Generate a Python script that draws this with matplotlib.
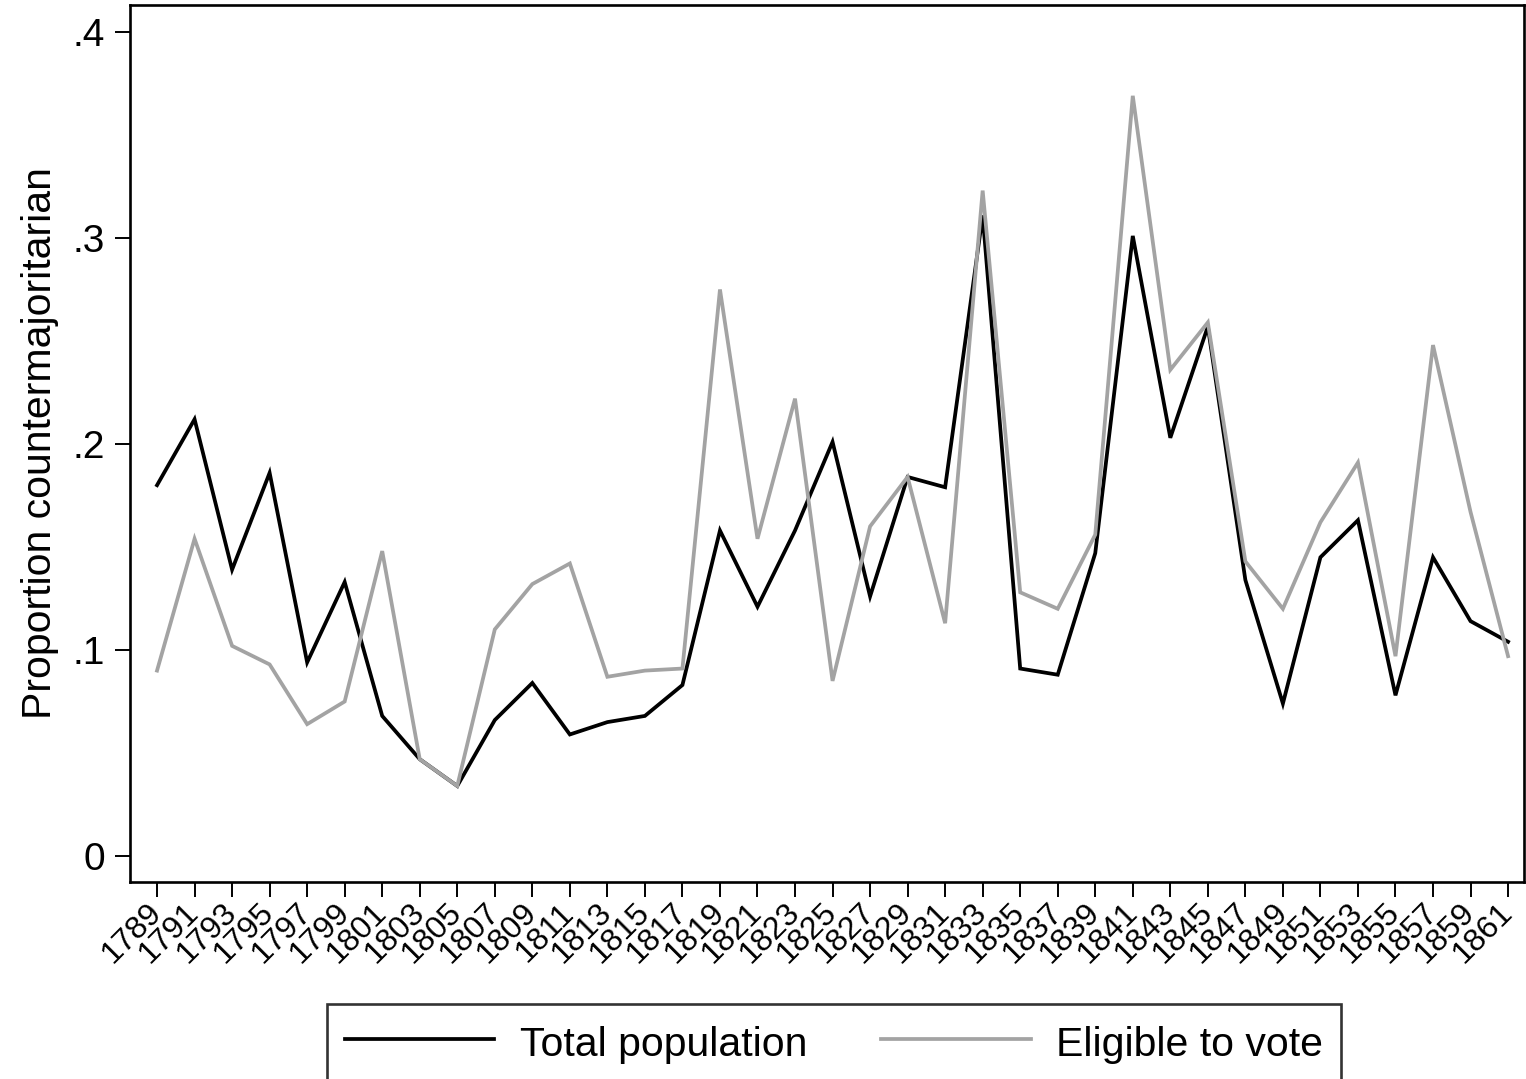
import matplotlib
matplotlib.use("Agg")
import matplotlib.pyplot as plt
from matplotlib.ticker import FixedLocator

plt.rcParams['font.family'] = ['Liberation Sans', 'DejaVu Sans']

# Congress start years
years = list(range(1789, 1862, 2))

# Share of countermajoritarian outcomes, by population base
total_population = [
    0.180, 0.212, 0.139, 0.186, 0.094, 0.133, 0.068, 0.047, 0.034, 0.066,
    0.084, 0.059, 0.065, 0.068, 0.083, 0.158, 0.121, 0.158, 0.201, 0.126,
    0.184, 0.179, 0.311, 0.091, 0.088, 0.147, 0.301, 0.203, 0.257, 0.134,
    0.074, 0.145, 0.163, 0.078, 0.145, 0.114, 0.104,
]
eligible_to_vote = [
    0.090, 0.154, 0.102, 0.093, 0.064, 0.075, 0.148, 0.047, 0.034, 0.110,
    0.132, 0.142, 0.087, 0.090, 0.091, 0.275, 0.154, 0.222, 0.085, 0.160,
    0.184, 0.113, 0.323, 0.128, 0.120, 0.156, 0.369, 0.236, 0.259, 0.143,
    0.120, 0.162, 0.191, 0.097, 0.248, 0.167, 0.097,
]

ytick_vals = [0, 0.1, 0.2, 0.3, 0.4]
ytick_labels = ["0", ".1", ".2", ".3", ".4"]

fig = plt.figure(figsize=(15.26, 10.79), dpi=100)
ax = fig.add_axes([0.0852, 0.1826, 0.9135, 0.8128])

ax.plot(years, total_population, color='black', lw=2.7, label='Total population',
        solid_joinstyle='miter')
ax.plot(years, eligible_to_vote, color='#a3a3a3', lw=2.7, label='Eligible to vote',
        solid_joinstyle='miter')

ax.set_xlim(1787.56, 1861.85)
ax.set_ylim(-0.0126, 0.4131)

ax.yaxis.set_major_locator(FixedLocator(ytick_vals))
ax.set_yticklabels(ytick_labels)
ax.xaxis.set_major_locator(FixedLocator(years))
ax.set_xticklabels([str(y) for y in years], rotation=45, ha='right', va='center',
                   rotation_mode='anchor')

ax.tick_params(axis='y', length=11, width=1.4, labelsize=28, pad=7)
ax.tick_params(axis='x', length=11, width=1.4, labelsize=23, pad=8)
for s in ax.spines.values():
    s.set_linewidth(1.9)

ax.set_ylabel('Proportion countermajoritarian', fontsize=29.5, labelpad=10)

fig.legend(loc='upper center', bbox_to_anchor=(0.5465, 1 - 1004 / 1079), ncol=2,
           fontsize=29.5, frameon=True, fancybox=False, edgecolor='black',
           handlelength=3.66, handleheight=1.15, handletextpad=0.63,
           columnspacing=1.78, borderpad=0.44, borderaxespad=0)
leg = fig.legends[0]
leg.get_frame().set_linewidth(1.9)
for line in leg.get_lines():
    line.set_linewidth(2.7)

fig.savefig('out.png', dpi=100, facecolor='white')
